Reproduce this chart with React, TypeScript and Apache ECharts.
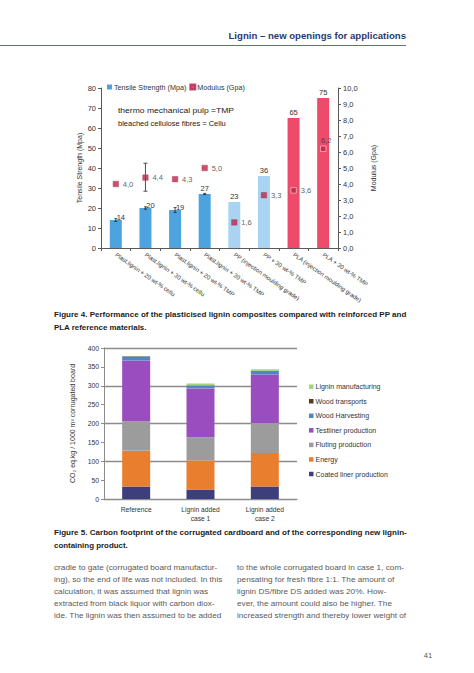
import React, { useEffect, useRef } from 'react';
import * as echarts from 'echarts';

const W = 474;
const H = 673;
const FONT = '"Liberation Sans", Arial, Helvetica, sans-serif';

// ---------- Figure 4 data ----------
const fig4Categories = [
  'Plast.lignin + 20 wt-% cellu',
  'Plast.lignin + 30 wt-% cellu',
  'Plast.lignin + 20 wt-% TMP',
  'Plast.lignin + 30 wt-% TMP',
  'PP (injection moulding grade)',
  'PP + 30 wt-% TMP',
  'PLA (injection moulding grade)',
  'PLA + 30 wt-% TMP',
];
const tensileStrength = [14, 20, 19, 27, 23, 36, 65, 75];
const tensileError = [0.7, 0.6, 1.2, 0.3, 0, 0, 0, 0];
const modulus = [4.0, 4.4, 4.3, 5.0, 1.6, 3.3, 3.6, 6.2];
const modulusErrorLow = [0, 3.55, 0, 0, 0, 0, 0, 0];
const modulusErrorHigh = [0, 5.3, 0, 0, 0, 0, 0, 0];
const barGroup = ['lignin', 'lignin', 'lignin', 'lignin', 'pp', 'pp', 'pla', 'pla'];

// ---------- Figure 5 data ----------
const fig5Categories = ['Reference', 'Lignin added\ncase 1', 'Lignin added\ncase 2'];
const coatedLiner = [33, 25, 33];
const energy = [95, 77, 89];
const fluting = [78, 62, 79];
const testliner = [161, 129, 129];
const woodHarvesting = [10, 7, 9];
const woodTransports = [1, 1, 1];
const ligninManufacturing = [0, 5, 4];

// ---------- page text ----------
const headerText = 'Lignin \u2013 new openings for applications';
const fig4Caption = [
  'Figure 4. Performance of the plasticised lignin composites compared with reinforced PP and',
  'PLA reference materials.',
];
const fig5Caption = [
  'Figure 5. Carbon footprint of the corrugated cardboard and of the corresponding new lignin-',
  'containing product.',
];
const bodyLeft = [
  'cradle to gate (corrugated board manufactur-',
  'ing), so the end of life was not included. In this',
  'calculation, it was assumed that lignin was',
  'extracted from black liquor with carbon diox-',
  'ide. The lignin was then assumed to be added',
];
const bodyRight = [
  'to the whole corrugated board in case 1, com-',
  'pensating for fresh fibre 1:1. The amount of',
  'lignin DS/fibre DS added was 20%. How-',
  'ever, the amount could also be higher. The',
  'increased strength and thereby lower weight of',
];
const annotation = ['thermo mechanical pulp =TMP', 'bleached cellulose fibres = Cellu'];
const pageNumber = '41';

const groupColors: Record<string, string> = {
  lignin: '#4da3de',
  pp: '#a8d4f2',
  pla: '#ee4b6a',
};

const comma = (v: number) => v.toFixed(1).replace('.', ',');

let ctx: CanvasRenderingContext2D | null = null;
function textWidth(t: string, size: number, weight: string) {
  if (!ctx) ctx = document.createElement('canvas').getContext('2d');
  ctx!.font = `${weight} ${size}px ${FONT}`;
  return ctx!.measureText(t).width;
}
function fitSize(lines: string[], width: number, weight: string, maxSize: number) {
  let s = maxSize;
  for (const l of lines) {
    const w = textWidth(l, 10, weight);
    s = Math.min(s, (width / w) * 10 * 0.99);
  }
  return s;
}
function textLines(
  lines: string[],
  x: number,
  y0: number,
  lh: number,
  width: number,
  size: number,
  weight: string,
  color: string,
  justifyLast: boolean
) {
  return lines.map((l, i) => {
    const natural = textWidth(l, size, weight);
    const isLast = i === lines.length - 1;
    let sx = 1;
    if (!isLast || justifyLast) sx = Math.min(1.14, Math.max(1, width / natural));
    return {
      type: 'text',
      x,
      y: y0 + i * lh,
      scaleX: sx,
      silent: true,
      style: {
        text: l,
        fill: color,
        fontSize: size,
        fontWeight: weight,
        fontFamily: FONT,
        align: 'left',
        verticalAlign: 'middle',
        textAlign: 'left',
        textVerticalAlign: 'middle',
      },
    };
  });
}

function errorRender(halfCap: number, color: string, lw: number) {
  return (params: any, api: any) => {
    const x = api.value(0);
    const lo = api.coord([x, api.value(1)]);
    const hi = api.coord([x, api.value(2)]);
    const st = { stroke: color, lineWidth: lw };
    return {
      type: 'group',
      children: [
        { type: 'line', shape: { x1: lo[0], y1: lo[1], x2: hi[0], y2: hi[1] }, style: st },
        { type: 'line', shape: { x1: lo[0] - halfCap, y1: lo[1], x2: lo[0] + halfCap, y2: lo[1] }, style: st },
        { type: 'line', shape: { x1: hi[0] - halfCap, y1: hi[1], x2: hi[0] + halfCap, y2: hi[1] }, style: st },
      ],
    };
  };
}

function buildOption() {
  const capSize = fitSize([fig4Caption[0], fig5Caption[0]], 352, 'bold', 8.4);
  const bodySize = fitSize([...bodyLeft, ...bodyRight], 169, 'normal', 7.2);
  const headSize = fitSize([headerText], 184, 'bold', 9.6);

  const graphics: any[] = [
    {
      type: 'text',
      x: 406,
      y: 35,
      silent: true,
      style: {
        text: headerText,
        fill: '#2b3a6e',
        fontSize: headSize,
        fontWeight: 'bold',
        fontFamily: FONT,
        align: 'right',
        verticalAlign: 'middle',
        textAlign: 'right',
        textVerticalAlign: 'middle',
      },
    },
    {
      type: 'line',
      silent: true,
      shape: { x1: 0, y1: 45.5, x2: 406, y2: 45.5 },
      style: { stroke: '#5f6f9f', lineWidth: 1.2 },
    },
    ...textLines(annotation, 118, 111, 12.5, 200, 7.5, 'normal', '#222', false),
    ...textLines(fig4Caption, 54, 315, 12.8, 352, capSize, 'bold', '#1c1c1c', false),
    ...textLines(fig5Caption, 54, 533, 12.8, 352, capSize, 'bold', '#1c1c1c', false),
    ...textLines(bodyLeft, 54, 568, 11.8, 168, bodySize, 'normal', '#5a5a5a', true),
    ...textLines(bodyRight, 237, 568, 11.8, 169, bodySize, 'normal', '#5a5a5a', true),
    {
      type: 'text',
      x: 428,
      y: 655,
      silent: true,
      style: {
        text: pageNumber,
        fill: '#555',
        fontSize: 7.5,
        fontFamily: FONT,
        align: 'center',
        verticalAlign: 'middle',
        textAlign: 'center',
        textVerticalAlign: 'middle',
      },
    },
  ];

  const axisColor1 = '#595959';
  const axisColor2 = '#8c8c8c';

  const fig5Series = [
    { name: 'Coated liner production', data: coatedLiner, color: '#3d3f7d' },
    { name: 'Energy', data: energy, color: '#e97f2e' },
    { name: 'Fluting production', data: fluting, color: '#9c9c9c' },
    { name: 'Testliner production', data: testliner, color: '#9a4dbe' },
    { name: 'Wood Harvesting', data: woodHarvesting, color: '#4f86c6' },
    { name: 'Wood transports', data: woodTransports, color: '#5a3a1a' },
    { name: 'Lignin manufacturing', data: ligninManufacturing, color: '#a2d67e' },
  ].map((s) => ({
    name: s.name,
    type: 'bar',
    stack: 'co2',
    xAxisIndex: 1,
    yAxisIndex: 2,
    barWidth: 28,
    itemStyle: { color: s.color },
    data: s.data,
  }));

  return {
    animation: false,
    backgroundColor: '#ffffff',
    textStyle: { fontFamily: FONT },
    graphic: graphics,
    legend: [
      {
        data: ['Tensile Strength (Mpa)', 'Modulus (Gpa)'],
        left: 107,
        top: 83,
        padding: 0,
        icon: 'rect',
        itemWidth: 5,
        itemHeight: 5,
        itemGap: 3,
        selectedMode: false,
        textStyle: { fontSize: 7.2, color: '#333', lineHeight: 8, padding: [0, 0, 0, -3] },
      },
      {
        data: [
          'Lignin manufacturing',
          'Wood transports',
          'Wood Harvesting',
          'Testliner production',
          'Fluting production',
          'Energy',
          'Coated liner production',
        ],
        orient: 'vertical',
        left: 309,
        top: 382.7,
        padding: 0,
        icon: 'rect',
        itemWidth: 4.5,
        itemHeight: 4.5,
        itemGap: 6.55,
        selectedMode: false,
        textStyle: { fontSize: 7, color: '#333', lineHeight: 8, padding: [0, 0, 0, -3] },
      },
    ],
    grid: [
      { left: 101, top: 88, width: 237, height: 160 },
      { left: 104, top: 348, width: 193, height: 151 },
    ],
    xAxis: [
      {
        type: 'category',
        gridIndex: 0,
        data: fig4Categories,
        axisLine: { lineStyle: { color: axisColor1, width: 1 } },
        axisTick: { show: true, length: 3, lineStyle: { color: axisColor1 } },
        axisLabel: { rotate: -35, interval: 0, fontSize: 6, color: '#333', margin: 6 },
      },
      {
        type: 'category',
        gridIndex: 1,
        data: fig5Categories,
        axisLine: { lineStyle: { color: axisColor2, width: 1 } },
        axisTick: { show: false },
        axisLabel: { interval: 0, fontSize: 6.7, lineHeight: 9, color: '#333', margin: 6 },
      },
    ],
    yAxis: [
      {
        type: 'value',
        gridIndex: 0,
        position: 'left',
        min: 0,
        max: 80,
        interval: 10,
        axisLine: { show: true, lineStyle: { color: axisColor1 } },
        axisTick: { show: true, length: 3, lineStyle: { color: axisColor1 } },
        axisLabel: { fontSize: 7.5, color: '#333', margin: 5 },
        splitLine: { show: false },
        name: 'Tensile Strength (Mpa)',
        nameLocation: 'middle',
        nameRotate: 90,
        nameGap: 18,
        nameTextStyle: { fontSize: 7, color: '#333' },
      },
      {
        type: 'value',
        gridIndex: 0,
        position: 'right',
        min: 0,
        max: 10,
        interval: 1,
        axisLine: { show: true, lineStyle: { color: axisColor1 } },
        axisTick: { show: true, length: 3, lineStyle: { color: axisColor1 } },
        axisLabel: { fontSize: 7.5, color: '#333', margin: 5, formatter: (v: number) => comma(v) },
        splitLine: { show: false },
        name: 'Modulus (Gpa)',
        nameLocation: 'middle',
        nameRotate: 90,
        nameGap: 32,
        nameTextStyle: { fontSize: 7, color: '#333' },
      },
      {
        type: 'value',
        gridIndex: 1,
        position: 'left',
        min: 0,
        max: 400,
        interval: 50,
        axisLine: { show: true, lineStyle: { color: axisColor2 } },
        axisTick: { show: true, length: 3, lineStyle: { color: axisColor2 } },
        axisLabel: { fontSize: 6.8, color: '#333', margin: 5 },
        splitLine: { show: false },
        name: 'CO\u2082 eq.kg / 1000 m\u00b2 corrugated board',
        nameLocation: 'middle',
        nameRotate: 90,
        nameGap: 28,
        nameTextStyle: { fontSize: 7, color: '#333' },
      },
      {
        type: 'value',
        gridIndex: 1,
        position: 'right',
        min: 0,
        max: 400,
        interval: 100,
        axisLine: { show: false },
        axisTick: { show: false },
        axisLabel: { show: false },
        splitLine: { show: true, lineStyle: { color: axisColor2, width: 1.3 } },
      },
    ],
    series: [
      {
        name: 'Tensile Strength (Mpa)',
        type: 'bar',
        xAxisIndex: 0,
        yAxisIndex: 0,
        barWidth: 12,
        itemStyle: { color: groupColors.lignin },
        label: { show: true, position: 'top', distance: 2, fontSize: 7.5, color: '#333' },
        data: tensileStrength.map((v, i) => ({
          value: v,
          itemStyle: { color: groupColors[barGroup[i]] },
          label: i < 3 ? { offset: [5, 3] } : undefined,
        })),
        z: 2,
      },
      {
        name: 'tensileError',
        type: 'custom',
        xAxisIndex: 0,
        yAxisIndex: 0,
        silent: true,
        renderItem: errorRender(1.5, '#222', 0.8),
        data: tensileStrength
          .map((v, i) => [i, v - tensileError[i], v + tensileError[i]])
          .filter((d, i) => tensileError[i] > 0),
        z: 4,
      },
      {
        name: 'Modulus (Gpa)',
        type: 'scatter',
        xAxisIndex: 0,
        yAxisIndex: 1,
        symbol: 'rect',
        symbolSize: 5.5,
        itemStyle: { color: '#b8284a', borderColor: '#b8284a', borderWidth: 0.5 },
        label: {
          show: true,
          position: 'right',
          distance: 4,
          fontSize: 7.5,
          color: '#333',
          formatter: (p: any) => comma(p.value[1]),
        },
        data: modulus.map((v, i) => ({
          value: [i, v],
          itemStyle: i >= 6 ? { borderColor: '#f6b3c2', borderWidth: 1 } : undefined,
          label: i === 7 ? { position: 'top', distance: 1, offset: [3, 0] } : undefined,
        })),
        z: 6,
      },
      {
        name: 'modulusError',
        type: 'custom',
        xAxisIndex: 0,
        yAxisIndex: 1,
        silent: true,
        renderItem: errorRender(2, '#222', 0.8),
        data: modulus
          .map((v, i) => [i, modulusErrorLow[i], modulusErrorHigh[i]])
          .filter((d, i) => modulusErrorHigh[i] > 0),
        z: 5,
      },
      ...fig5Series,
    ],
  };
}

export default function App() {
  const ref = useRef<HTMLDivElement>(null);
  useEffect(() => {
    const chart = echarts.init(ref.current!, undefined, { renderer: 'svg', width: W, height: H });
    chart.setOption(buildOption() as any);
    return () => chart.dispose();
  }, []);
  return (
    <div
      ref={ref}
      style={{ position: 'absolute', left: 0, top: 0, width: W, height: H, background: '#fff' }}
    />
  );
}
